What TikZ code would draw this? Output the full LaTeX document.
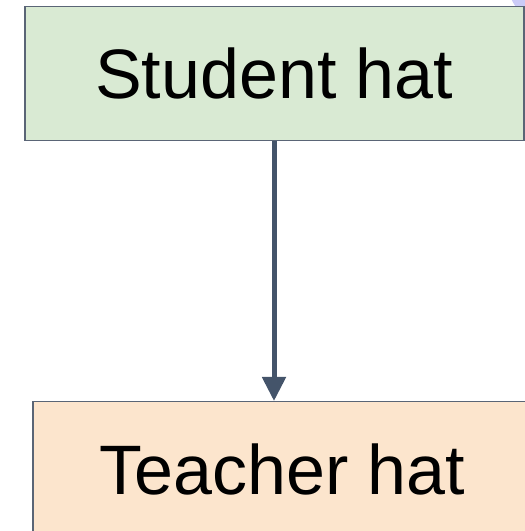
\documentclass[tikz,border=0pt]{standalone}
\usepackage{fontspec}
\setmainfont{Liberation Sans}
\usetikzlibrary{arrows.meta}
\definecolor{boxline}{HTML}{5A6576}
\definecolor{greenfill}{HTML}{D9EAD3}
\definecolor{peachfill}{HTML}{FCE5CD}
\definecolor{arrowcol}{HTML}{44546A}
\definecolor{lavender}{HTML}{CBCBF7}
\tikzset{
  hatbox/.style={draw=boxline, line width=1.5pt, inner sep=0pt, anchor=north west,
    font=\fontsize{70}{84}\selectfont},
  link/.style={draw=arrowcol, line width=5pt, -{Triangle[length=24pt,width=23pt]}}
}
\begin{document}
\begin{tikzpicture}[x=1pt,y=1pt]
\useasboundingbox (0,0) rectangle (525,531);
\clip (0,0) rectangle (525,531);
\fill[lavender] (548,548) circle (40);
\node[hatbox, fill=greenfill, minimum width=499pt, minimum height=134pt] (student) at (24,525) {Student hat};
\node[hatbox, fill=peachfill, minimum width=499pt, minimum height=136pt] (teacher) at (32,130) {Teacher hat};
\draw[link] (student.south -| 274,0) -- (teacher.north -| 274,0);
\end{tikzpicture}
\end{document}
